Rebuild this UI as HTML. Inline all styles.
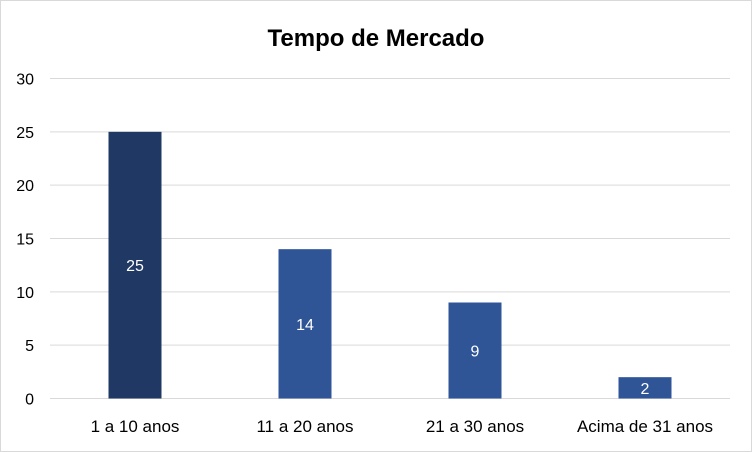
<!DOCTYPE html>
<html><head><meta charset="utf-8"><style>
body{margin:0;background:#fff}
svg{display:block;font-family:"Liberation Sans",sans-serif}
</style></head><body>
<svg id="c" width="752" height="452">
<rect x="0.5" y="0.5" width="751" height="451" fill="#fff" stroke="#d9d9d9"/>
<text x="376" y="46" text-anchor="middle" font-size="24" font-weight="bold" fill="#000">Tempo de Mercado</text>
</svg>
<script>
const categories=["1 a 10 anos","11 a 20 anos","21 a 30 anos","Acima de 31 anos"];
const values=[25,14,9,2];
const colors=["#203864","#2f5597","#2f5597","#2f5597"];
const yTicks=[0,5,10,15,20,25,30];
const svg=document.getElementById('c');
const NS='http://www.w3.org/2000/svg';
const x0=50,x1=730,yb=398.5,yt=78.5,ymax=30;
const y=v=>yb-(v/ymax)*(yb-yt);
const band=(x1-x0)/categories.length;
const xc=i=>x0+band*(i+0.5);
function mk(t,a){const e=document.createElementNS(NS,t);for(const k in a)e.setAttribute(k,a[k]);svg.appendChild(e);return e;}
yTicks.forEach(v=>{
 const l=mk('line',{x1:x0,x2:x1,y1:y(v),y2:y(v),stroke:'#d9d9d9','stroke-width':1});
 
 
 const t=mk('text',{x:34,y:y(v)+6,'text-anchor':'end','font-size':16,fill:'#000'});
 t.textContent=v;
 
 
});
const bw=53;
values.forEach((v,i)=>{
 const r=mk('rect',{x:xc(i)-bw/2,y:y(v),width:bw,height:yb-y(v),fill:colors[i]});
 
 
 const t=mk('text',{x:xc(i),y:(y(v)+yb)/2+6,'text-anchor':'middle','font-size':16,fill:'#fff'});
 t.textContent=v;
 
 
 const c=mk('text',{x:xc(i),y:432,'text-anchor':'middle','font-size':17,fill:'#000'});
 c.textContent=categories[i];
 
 
});
</script>
</body></html>
